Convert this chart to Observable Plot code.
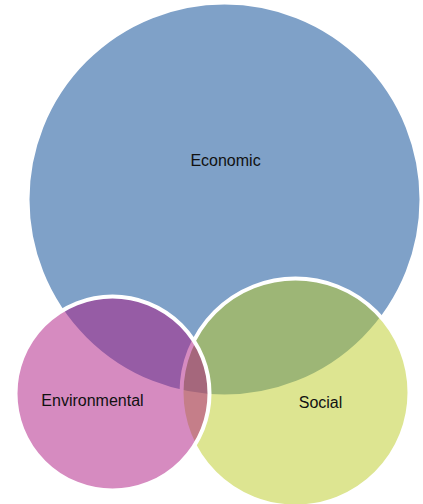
<!DOCTYPE html>
<html>
<head>
<meta charset="utf-8">
<script src="https://cdn.jsdelivr.net/npm/d3@7"></script>
<script src="https://cdn.jsdelivr.net/npm/@observablehq/plot@0.6"></script>
<style>
  html, body { margin: 0; padding: 0; background: #fff; }
  #chart svg { display: block; }
</style>
</head>
<body>
<div id="chart"></div>
<script>
// Sets (drawn in this order: Economic, Social, Environmental)
const sets = ["Economic", "Social", "Environmental"];
const centerX = [224, 295, 112];
const centerY = [199, 392, 393];
const radius = [197, 114, 97];
const colors = ["#004391", "#BBCB23", "#AD1781"];

// Label anchor points
const labelX = [225, 320, 92];
const labelY = [160, 402, 400];

const circles = sets.map((s, i) => ({set: s, x: centerX[i], y: centerY[i], r: radius[i], color: colors[i]}));
const labels = sets.map((s, i) => ({set: s, x: labelX[i], y: labelY[i]}));

const W = 423, H = 504;
const chart = Plot.plot({
  width: W,
  height: H,
  margin: 0,
  style: {background: "white", overflow: "visible"},
  x: {domain: [0, W], range: [0, W], axis: null},
  y: {domain: [0, H], range: [0, H], axis: null},
  r: {type: "linear", domain: [0, H], range: [0, H]},
  color: {type: "identity"},
  marks: [
    Plot.dot(circles, {
      x: "x", y: "y", r: "r",
      fill: "color", fillOpacity: 0.5,
      stroke: "white", strokeWidth: 4
    }),
    Plot.text(labels, {
      x: "x", y: "y", text: "set",
      fontSize: 16, fill: "#111",
      fontFamily: "'Liberation Sans', Arial, sans-serif",
      textAnchor: "middle", lineAnchor: "middle"
    })
  ]
});
document.getElementById("chart").appendChild(chart);
</script>
</body>
</html>
